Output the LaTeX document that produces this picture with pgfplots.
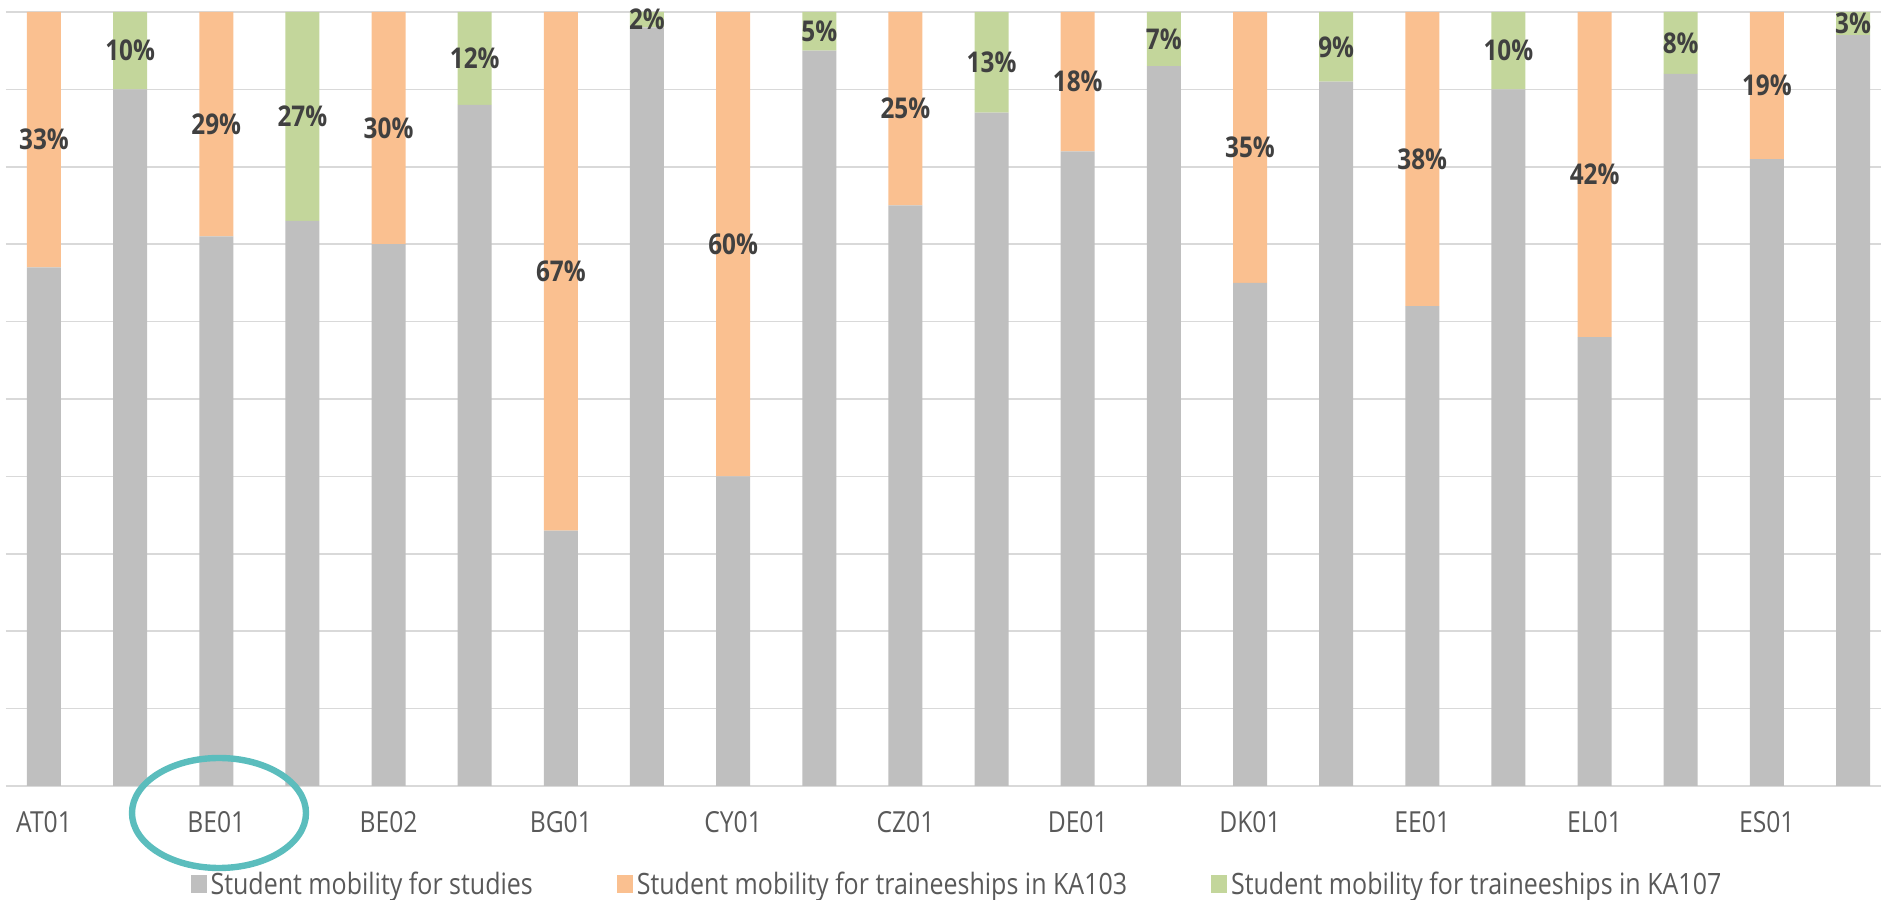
\documentclass[border=0pt]{standalone}
\usepackage{pgfplots}
\pgfplotsset{compat=1.18}
\usepackage{pgfplotstable}
\usepackage{fontspec}
\setmainfont{Open Sans}[FakeStretch=0.85]
\definecolor{cGray}{HTML}{BFBFBF}
\definecolor{cOrange}{HTML}{FAC090}
\definecolor{cGreen}{HTML}{C3D69B}
\definecolor{cGrid}{HTML}{D9D9D9}
\definecolor{cLabel}{HTML}{404040}
\definecolor{cTick}{HTML}{595959}
\definecolor{cRing}{HTML}{5BBDBD}

\pgfplotsset{sqlegend/.style={legend image code/.code={\fill[##1] (0pt,-4.5pt) rectangle (8pt,4.5pt);}}}

\pgfplotstableread{
x studies ka103 ka107
0  67 33 0
1  90 0  10
2  71 29 0
3  73 0  27
4  70 30 0
5  88 0  12
6  33 67 0
7  98 0  2
8  40 60 0
9  95 0  5
10 75 25 0
11 87 0  13
12 82 18 0
13 93 0  7
14 65 35 0
15 91 0  9
16 62 38 0
17 90 0  10
18 58 42 0
19 92 0  8
20 81 19 0
21 97 0  3
}\shares

\pgfplotstableread{
x v
0  33
1  10
2  29
3  27
4  30
5  12
6  67
7  2
8  60
9  5
10 25
11 13
12 18
13 7
14 35
15 9
16 38
17 10
18 42
19 8
20 19
21 3
}\labels

\begin{document}
\begin{tikzpicture}
\useasboundingbox (0pt,0pt) rectangle (940.5pt,450pt);
\pgfplotsset{common/.style={at={(3pt,444pt)}, anchor=north west, scale only axis,
  width=937.5pt, height=387pt, xmin=-0.441, xmax=21.325, ymin=0, ymax=100}}
\begin{axis}[common, ybar stacked, bar width=17pt,
  axis line style={draw=none},
  ytick={0,10,...,100}, yticklabels={},
  ymajorgrids, grid style={cGrid, line width=0.75pt},
  tick style={draw=none}, major tick length=0pt,
  xtick={0,2,...,20},
  xticklabels={AT01,BE01,BE02,BG01,CY01,CZ01,DE01,DK01,EE01,EL01,ES01},
  xticklabel style={anchor=center, yshift=-18pt, text=cTick, font=\fontsize{14.5}{17}\selectfont},
  legend columns=3,
  legend style={at={(0.5077,-0.127)}, anchor=center, draw=none, fill=none,
    font=\fontsize{14.7}{17}\selectfont, text=cTick,
    /tikz/every even column/.append style={column sep=40pt}},
]
\addplot[fill=cGray, draw=none, sqlegend] table[x=x, y=studies] {\shares};
\addplot[fill=cOrange, draw=none, sqlegend] table[x=x, y=ka103] {\shares};
\addplot[fill=cGreen, draw=none, sqlegend] table[x=x, y=ka107] {\shares};
\legend{Student mobility for studies, Student mobility for traineeships in KA103, Student mobility for traineeships in KA107}
\end{axis}
\begin{axis}[common, hide axis, clip=false]
\addplot[draw=none, mark=none, nodes near coords={\pgfplotspointmeta\%},
  point meta=explicit symbolic,
  every node near coord/.append style={anchor=center, font=\fontsize{14.3}{16}\selectfont\bfseries, text=cLabel}]
  table[x=x, y expr=100-\thisrow{v}/2, meta=v] {\labels};
\end{axis}
\draw[cRing, line width=3.2pt] (109.5pt,43.5pt) ellipse [x radius=43.5pt, y radius=27.5pt];
\end{tikzpicture}
\end{document}
